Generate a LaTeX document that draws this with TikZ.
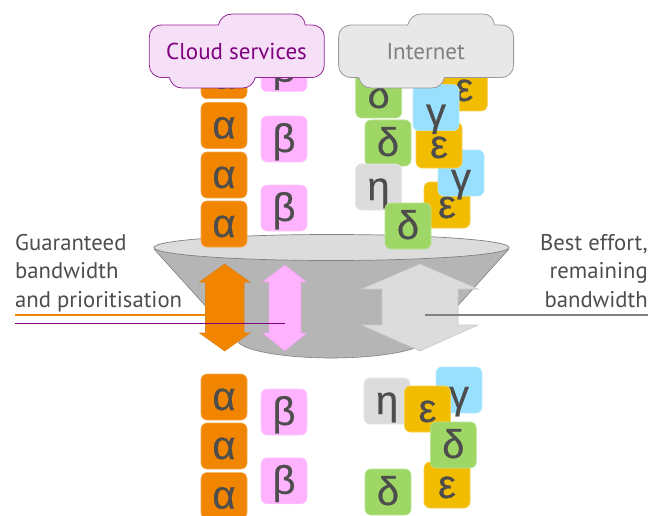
\documentclass[tikz,border=0pt]{standalone}
\usepackage{fontspec}
\setmainfont{PT Sans}
\newfontfamily\greekf[FakeBold=0.5]{Liberation Sans}
\usetikzlibrary{shapes.geometric}
\definecolor{orangeT}{HTML}{F28500}
\definecolor{pinkT}{HTML}{FFB3FF}
\definecolor{greenT}{HTML}{9ED765}
\definecolor{yellowT}{HTML}{F2BC00}
\definecolor{blueT}{HTML}{99E0FF}
\definecolor{greyT}{HTML}{DCDCDC}
\definecolor{inkT}{HTML}{4D4D4D}
\definecolor{purpleT}{HTML}{800080}
\definecolor{cloudP}{HTML}{F5E0F8}
\definecolor{cloudG}{HTML}{E8E8E8}
\definecolor{midG}{HTML}{808080}
\definecolor{funnelG}{HTML}{B5B5B5}
\tikzset{
  tile/.style={draw=#1!70!white, line width=.6pt, fill=#1, rounded corners=6pt,
    minimum size=46pt, inner sep=0pt, text=inkT, text height=30pt, text depth=4pt,
    font=\greekf\fontsize{40}{40}\selectfont,
    path picture={
      \foreach \s in {4,7,10}{
        \fill[black,opacity=.2] (path picture bounding box.south west) -- ++(\s pt,0pt) -- ++(-\s pt,-\s pt) -- cycle;
        \fill[white,opacity=.25] (path picture bounding box.north east) -- ++(-\s pt,0pt) -- ++(\s pt,\s pt) -- cycle;
      }
    }},
  label text/.style={text=inkT, inner sep=0pt, font=\fontsize{22.7}{28.5}\selectfont},
  cloud text/.style={inner sep=0pt, font=\fontsize{23}{27}\selectfont},
  arrow shape/.style={line width=.6pt, draw=#1!80!gray, fill=#1},
}
\newcommand{\lowg}{\smash{\raisebox{-5pt}{γ}}}
\newcommand{\cloudpath}[1]{%
  ({#1+69},25) .. controls ({#1+71},18) and ({#1+76},14) .. ({#1+83},14) -- ({#1+144},14)
  .. controls ({#1+151},14) and ({#1+155},18) .. ({#1+156},25) -- ({#1+162},25)
  .. controls ({#1+170},25) and ({#1+175},30) .. ({#1+175},37) -- ({#1+175},65)
  .. controls ({#1+175},72) and ({#1+170},77.5) .. ({#1+162},77.5) -- ({#1+106},77.5)
  .. controls ({#1+104},84) and ({#1+100},88) .. ({#1+93},88) -- ({#1+33},88)
  .. controls ({#1+26},88) and ({#1+22},84) .. ({#1+20},77.5) -- ({#1+13},77.5)
  .. controls ({#1+5},77.5) and ({#1+0},72) .. ({#1+0},65) -- ({#1+0},37)
  .. controls ({#1+0},30) and ({#1+5},25) .. ({#1+13},25) -- cycle}
\begin{document}
\begin{tikzpicture}[x=1pt,y=-1pt]
\useasboundingbox (0,0) rectangle (661,516);
% funnel
\fill[funnelG] (154,249) -- (238,342) .. controls (246,352) and (290,358) .. (331.5,358)
  .. controls (373,358) and (417,352) .. (425,342) -- (509,249) -- cycle;
\draw[gray,line width=.6pt] (154,249) -- (238,342) .. controls (246,352) and (290,358) .. (331.5,358)
  .. controls (373,358) and (417,352) .. (425,342) -- (509,249);
\node[ellipse, draw=midG, line width=.7pt, fill=greyT, minimum width=355pt, minimum height=26pt, inner sep=0pt] (rim) at (331.5,247.5) {};
% tiles above the funnel
\node[tile=orangeT] (a1) at (224,75.7) {α};
\node[tile=orangeT] (a2) at (224,125.5) {α};
\node[tile=orangeT] (a3) at (224,175) {α};
\node[tile=orangeT] (a4) at (224,224) {α};
\node[tile=pinkT] (b1) at (284,68.7) {β};
\node[tile=pinkT] (b2) at (284,139) {β};
\node[tile=pinkT] (b3) at (284,208) {β};
\node[tile=yellowT] (e1) at (464.3,88) {ε};
\node[tile=greenT] (d1) at (378.7,95) {δ};
\node[tile=greenT] (d2) at (388,143) {δ};
\node[tile=yellowT] (e3) at (447,205) {ε};
\node[tile=blueT] (g2) at (461,173) {\lowg};
\node[tile=yellowT] (e2) at (439,145) {ε};
\node[tile=blueT] (g1) at (436,107.7) {\lowg};
\node[tile=greyT] (h1) at (378.5,187) {η};
\node[tile=greenT] (d3) at (408,226) {δ};
% arrows
\coordinate (orangeEnd) at (206,315);
\coordinate (orangeStart) at (15,315);
\draw[orangeT,line width=1.4pt] (orangeStart) -- (orangeEnd);
\draw[arrow shape=orangeT] (224.7,264) -- (249.8,282) -- (244,282) -- (244,333) -- (249.8,333) -- (224.7,351) -- (199.6,333) -- (205.5,333) -- (205.5,282) -- (199.6,282) -- cycle;
\draw[arrow shape=pinkT] (284.8,265) -- (306.8,282) -- (301,282) -- (301,333) -- (306.8,333) -- (284.8,351) -- (262.5,333) -- (269,333) -- (269,282) -- (262.5,282) -- cycle;
\draw[arrow shape=greyT] (420,264) -- (478,289) -- (458,289) -- (458,325) -- (478,325) -- (420,351) -- (361.6,325) -- (382,325) -- (382,289) -- (361.6,289) -- cycle;
\coordinate (purpleStart) at (15,323.3);
\coordinate (purpleEnd) at (285,323.3);
\draw[purpleT,line width=1.5pt] (purpleStart) -- (purpleEnd);
\coordinate (greyStart) at (425,315);
\coordinate (greyEnd) at (648,315);
\draw[midG,line width=1.3pt] (greyStart) -- (greyEnd);
% tiles below
\node[tile=orangeT] (a5) at (224,397) {α};
\node[tile=orangeT] (a6) at (224,446) {α};
\node[tile=orangeT] (a7) at (224,495.6) {α};
\node[tile=pinkT] (b4) at (284,412) {β};
\node[tile=pinkT] (b5) at (284,480.8) {β};
\node[tile=greyT] (h2) at (387,401) {η};
\node[tile=blueT] (g4) at (459,390) {\lowg};
\node[tile=yellowT] (e5) at (427.5,409) {ε};
\node[tile=yellowT] (e6) at (447,485) {ε};
\node[tile=greenT] (d4) at (453.3,445) {δ};
\node[tile=greenT] (d5) at (388,492) {δ};
% clouds
\draw[purpleT!85!white,fill=cloudP,line width=.8pt] \cloudpath{149.3};
\draw[midG!80!white,fill=cloudG,line width=.8pt] \cloudpath{338.6};
\node[cloud text,text=purpleT] (cs) at (236.5,51.5) {Cloud services};
\node[cloud text,text=midG] (inet) at (425.7,51.5) {Internet};
% labels
\node[label text,align=left,anchor=north west] (gb) at (15,234) {Guaranteed\\bandwidth\\and prioritisation};
\node[label text,align=right,anchor=north east] (be) at (648,234) {Best effort,\\remaining\\bandwidth};
\end{tikzpicture}
\end{document}
